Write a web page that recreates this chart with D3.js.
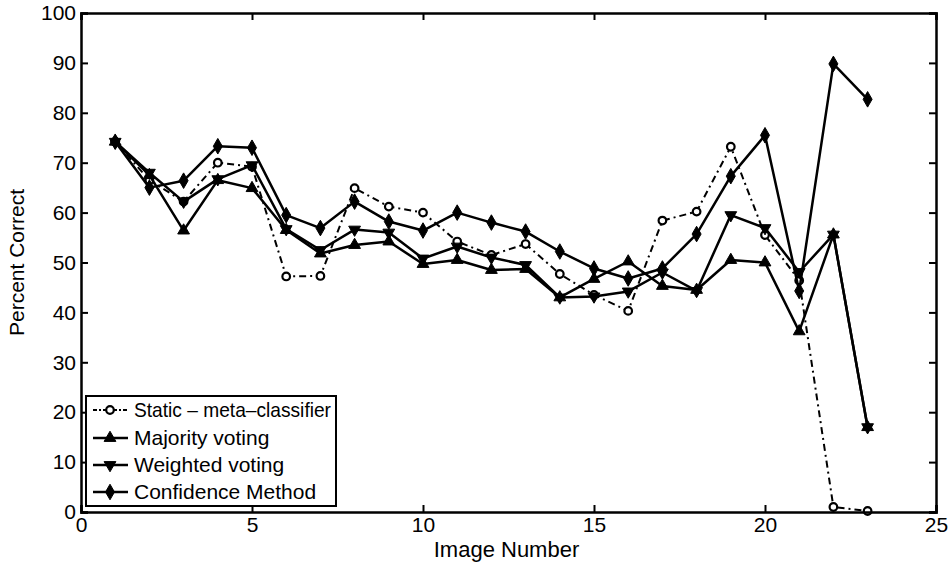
<!DOCTYPE html>
<html><head><meta charset="utf-8">
<script src="https://cdn.jsdelivr.net/npm/d3@7"></script>
<style>
body{margin:0;background:#fff;}
svg{display:block;font-family:"Liberation Sans",Arial,Helvetica,sans-serif;}
</style></head>
<body>
<script>
const images = d3.range(1, 24);
const staticMeta = [74.2, 66.5, 62.2, 70.0, 69.2, 47.2, 47.3, 64.9, 61.2, 60.0, 54.2, 51.5, 53.7, 47.7, 43.5, 40.3, 58.4, 60.2, 73.2, 55.5, 46.4, 1.0, 0.2];
const majority   = [74.2, 67.5, 56.4, 66.5, 64.9, 56.5, 51.8, 53.5, 54.2, 49.7, 50.5, 48.5, 48.7, 43.0, 46.7, 50.2, 45.3, 44.5, 50.5, 50.0, 36.2, 55.6, 17.0];
const weighted   = [74.2, 68.0, 62.2, 66.7, 69.5, 56.7, 52.5, 56.6, 56.0, 50.8, 53.2, 51.0, 49.5, 43.0, 43.2, 44.2, 48.0, 44.3, 59.5, 56.9, 48.1, 55.6, 17.0];
const confidence = [74.2, 65.0, 66.4, 73.3, 73.0, 59.5, 56.9, 62.2, 58.2, 56.4, 60.0, 58.0, 56.2, 52.2, 48.8, 46.8, 48.8, 55.7, 67.3, 75.5, 44.3, 89.8, 82.7];
const seriesNames = ["Static – meta–classifier", "Majority voting", "Weighted voting", "Confidence Method"];
const xTicks = [0, 5, 10, 15, 20, 25];
const yTicks = [0, 10, 20, 30, 40, 50, 60, 70, 80, 90, 100];

const W = 951, H = 567;
const m = {left: 81, right: 15, top: 13, bottom: 55};
const svg = d3.select("body").append("svg").attr("width", W).attr("height", H);
const x = d3.scaleLinear().domain([0, 25]).range([m.left, W - m.right]);
const y = d3.scaleLinear().domain([0, 100]).range([H - m.bottom, m.top]);

const series = [
  {name: seriesNames[0], vals: staticMeta, marker: "circle", dash: "7,4,2,4", width: 2},
  {name: seriesNames[1], vals: majority, marker: "tri", dash: null, width: 2.5},
  {name: seriesNames[2], vals: weighted, marker: "itri", dash: null, width: 2.5},
  {name: seriesNames[3], vals: confidence, marker: "diamond", dash: null, width: 2.5}
];

const line = d3.line().x((d, i) => x(images[i])).y(d => y(d));

function drawMarker(g, type, cx, cy) {
  if (type === "circle") {
    g.append("circle").attr("cx", cx).attr("cy", cy).attr("r", 3.8)
      .attr("fill", "#fff").attr("stroke", "#000").attr("stroke-width", 2.2);
  } else {
    const sym = type === "diamond" ? d3.symbolDiamond : d3.symbolTriangle;
    const size = type === "diamond" ? 70 : 60;
    const rot = type === "itri" ? 180 : 0;
    g.append("path").attr("d", d3.symbol().type(sym).size(size)())
      .attr("transform", `translate(${cx},${cy}) rotate(${rot})`)
      .attr("fill", "#000").attr("stroke", "#000").attr("stroke-width", 1);
  }
}

const plot = svg.append("g");
series.forEach(s => {
  plot.append("path").datum(s.vals).attr("d", line)
    .attr("fill", "none").attr("stroke", "#000").attr("stroke-width", s.width)
    .attr("stroke-linejoin", "round")
    .attr("stroke-dasharray", s.dash);
  const mg = plot.append("g");
  s.vals.forEach((v, i) => drawMarker(mg, s.marker, x(images[i]), y(v)));
});

// axes
const fs = 21;
const ax = svg.append("g").attr("font-size", fs);
const axBottom = ax.append("g").attr("transform", `translate(0,${y(0)})`)
  .call(d3.axisBottom(x).tickValues(xTicks).tickSize(-7).tickPadding(7));
const axTop = ax.append("g").attr("transform", `translate(0,${y(100)})`)
  .call(d3.axisTop(x).tickValues(xTicks).tickSize(-7).tickFormat(""));
const axLeft = ax.append("g").attr("transform", `translate(${x(0)},0)`)
  .call(d3.axisLeft(y).tickValues(yTicks).tickSize(-7).tickPadding(5));
const axRight = ax.append("g").attr("transform", `translate(${x(25)},0)`)
  .call(d3.axisRight(y).tickValues(yTicks).tickSize(-7).tickFormat(""));
[axBottom, axTop, axLeft, axRight].forEach(g => {
  g.select(".domain").attr("stroke-width", 2.5);
  g.selectAll(".tick line").attr("stroke-width", 2);
  g.selectAll("text").attr("font-size", fs).attr("fill", "#000");
});
axBottom.selectAll("text").attr("dy", "0.6em");

svg.append("text").attr("x", (x(0) + x(25)) / 2 - 2).attr("y", 557)
  .attr("text-anchor", "middle").attr("font-size", 22).text("Image Number");
svg.append("text").attr("transform", `translate(24,${(y(0) + y(100)) / 2}) rotate(-90)`)
  .attr("text-anchor", "middle").attr("font-size", 21).text("Percent Correct");

// legend
const lg = svg.append("g");
lg.append("rect").attr("x", 86).attr("y", 396).attr("width", 250).attr("height", 110)
  .attr("fill", "#fff").attr("stroke", "#000").attr("stroke-width", 2);
const rowY = [410, 438, 465, 492];
series.forEach((s, i) => {
  lg.append("line").attr("x1", 93).attr("x2", 128).attr("y1", rowY[i]).attr("y2", rowY[i])
    .attr("stroke", "#000").attr("stroke-width", s.width).attr("stroke-dasharray", s.dash ? "4,2,2,2" : null);
  drawMarker(lg, s.marker, 110, rowY[i]);
  const t = lg.append("text").attr("x", 134).attr("y", rowY[i]).attr("dy", "0.35em")
    .attr("font-size", 21).text(s.name);
  if (i === 0) t.attr("textLength", 197).attr("lengthAdjust", "spacingAndGlyphs");
});
</script>
</body></html>
